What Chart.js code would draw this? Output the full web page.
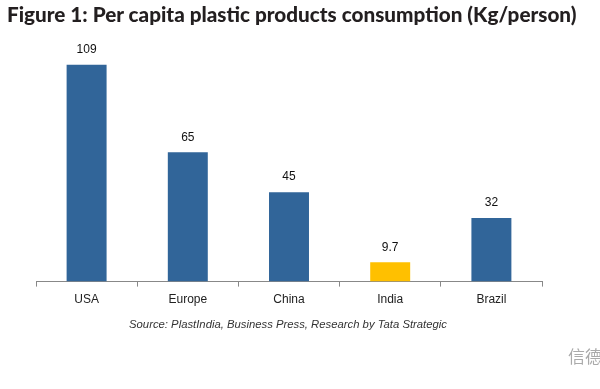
<!DOCTYPE html>
<html>
<head>
<meta charset="utf-8">
<script src="https://cdn.jsdelivr.net/npm/chart.js@4/dist/chart.umd.min.js"></script>
<style>
  html, body { margin: 0; padding: 0; background: #fff; }
  #wrap { position: relative; width: 600px; height: 389px; overflow: hidden; background: #fff; }
  #title { position: absolute; left: 7px; top: 2px; font-family: Lato, "Open Sans", sans-serif; font-weight: 900; font-size: 20.7px; color: #231f20; white-space: nowrap; }
  #source { position: absolute; left: 0; width: 576px; top: 318px; text-align: center; font-family: "Liberation Sans", Arial, sans-serif; font-style: italic; font-size: 11.3px; color: #333; white-space: nowrap; }
  #wm { position: absolute; left: 568px; top: 343px; font-family: "Noto Sans CJK SC", sans-serif; font-size: 17px; color: #aaa; white-space: nowrap; }
  canvas { position: absolute; left: 0; top: 0; }
</style>
</head>
<body>
<div id="wrap">
  <canvas id="c" width="600" height="389"></canvas>
  <div id="title">Figure 1: Per capita plastic products consumption (Kg/person)</div>
  <div id="source">Source: PlastIndia, Business Press, Research by Tata Strategic</div>
  <div id="wm">信德</div>
</div>
<script>
const categories = ["USA", "Europe", "China", "India", "Brazil"];
const values = [109, 65, 45, 9.7, 32];
const valueLabels = ["109", "65", "45", "9.7", "32"];
const barColors = ["#316599", "#316599", "#316599", "#ffc000", "#316599"];

const valueLabelPlugin = {
  id: 'valueLabels',
  afterDatasetsDraw(chart) {
    const ctx = chart.ctx;
    const meta = chart.getDatasetMeta(0);
    ctx.save();
    ctx.font = '12px "Liberation Sans", Arial, sans-serif';
    ctx.fillStyle = '#111';
    ctx.textAlign = 'center';
    ctx.textBaseline = 'bottom';
    meta.data.forEach((bar, i) => {
      const p = bar.getProps(['x', 'y'], true);
      ctx.fillText(valueLabels[i], p.x, p.y - 9);
    });
    ctx.restore();
  }
};

new Chart(document.getElementById('c'), {
  type: 'bar',
  data: {
    labels: categories,
    datasets: [{
      data: values,
      backgroundColor: barColors,
      borderWidth: 0,
      barPercentage: 0.79,
      categoryPercentage: 0.5
    }]
  },
  options: {
    responsive: false,
    animation: false,
    layout: { padding: { left: 36, right: 58, top: 43, bottom: 76 } },
    plugins: { legend: { display: false }, tooltip: { enabled: false }, title: { display: false } },
    scales: {
      x: {
        grid: { display: true, drawOnChartArea: false, drawTicks: true, tickLength: 5, color: '#888', offset: true },
        border: { display: true, color: '#888', width: 1 },
        ticks: { color: '#222', font: { family: '"Liberation Sans", Arial, sans-serif', size: 12 }, padding: 6 }
      },
      y: { display: false, min: 0, max: 120 }
    }
  },
  plugins: [valueLabelPlugin]
});
</script>
</body>
</html>
